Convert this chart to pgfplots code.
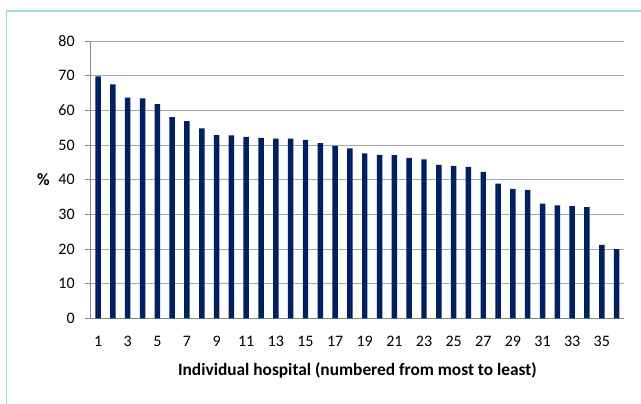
\documentclass[border=0pt]{standalone}
\usepackage{fontspec}
\setmainfont{Carlito}
\usepackage{pgfplots}
\pgfplotsset{compat=1.18}
\definecolor{barblue}{RGB}{0,32,96}
\definecolor{gridgray}{RGB}{166,166,166}
\definecolor{axisgray}{RGB}{134,134,134}
\definecolor{framecyan}{RGB}{160,220,222}
\begin{document}
\begin{tikzpicture}
    % page size taken from the 641x403 reference (1px = 0.75pt)
    \useasboundingbox (0,0) rectangle (480.75pt,302.25pt);
    \begin{scope}
        \clip (0,0) rectangle (480.75pt,302.25pt);
        \draw[framecyan, line width=1.3pt] (4.9pt,-20pt) -- (4.9pt,294.2pt) -- (500pt,294.2pt);
    \end{scope}
    \begin{axis}[
        at={(68pt,63.4pt)}, anchor=south west,
        scale only axis,
        width=400pt, height=208pt,
        font=\fontsize{12}{14}\selectfont,
        ybar, bar width=4.1pt,
        xmin=0.5, xmax=36.5,
        ymin=0, ymax=80,
        xtick={1,3,...,35},
        major x tick style={draw=none},
        extra x ticks={0.5,1.5,...,36.5},
        extra x tick labels={},
        extra x tick style={major tick length=4pt, tick style={axisgray, line width=0.6pt}, xmajorgrids=false},
        ytick={0,10,...,80},
        ymajorgrids,
        grid style={gridgray, line width=0.75pt},
        tick align=outside,
        major tick length=4pt,
        tick style={axisgray, line width=0.6pt},
        axis x line*=bottom, axis y line*=left,
        axis line style={axisgray, line width=0.75pt, -},
        xticklabel style={yshift=-6pt},
        yticklabel style={xshift=-4.5pt},
        /pgf/number format/assume math mode=true,
        xlabel={\fontsize{13}{15}\selectfont\bfseries Individual hospital (numbered from most to least)},
        xlabel style={at={(axis description cs:0.5,0)}, anchor=center, yshift=-38.6pt},
        ylabel={\fontsize{13}{15}\selectfont\bfseries \%},
        ylabel style={rotate=-90, at={(axis description cs:0,0.5)}, anchor=center, xshift=-35.4pt},
    ]
    \addplot[fill=barblue, draw=none] coordinates {
        (1,69.8) (2,67.5) (3,63.7) (4,63.5) (5,61.8) (6,58.1)
        (7,56.9) (8,54.8) (9,52.9) (10,52.8) (11,52.4) (12,52.1)
        (13,51.9) (14,51.9) (15,51.5) (16,50.6) (17,49.8) (18,49.1)
        (19,47.6) (20,47.2) (21,47.1) (22,46.3) (23,45.9) (24,44.3)
        (25,44.0) (26,43.7) (27,42.3) (28,38.9) (29,37.4) (30,37.1)
        (31,33.1) (32,32.6) (33,32.4) (34,32.1) (35,21.2) (36,20.0)
    };
    \end{axis}
\end{tikzpicture}
\end{document}
